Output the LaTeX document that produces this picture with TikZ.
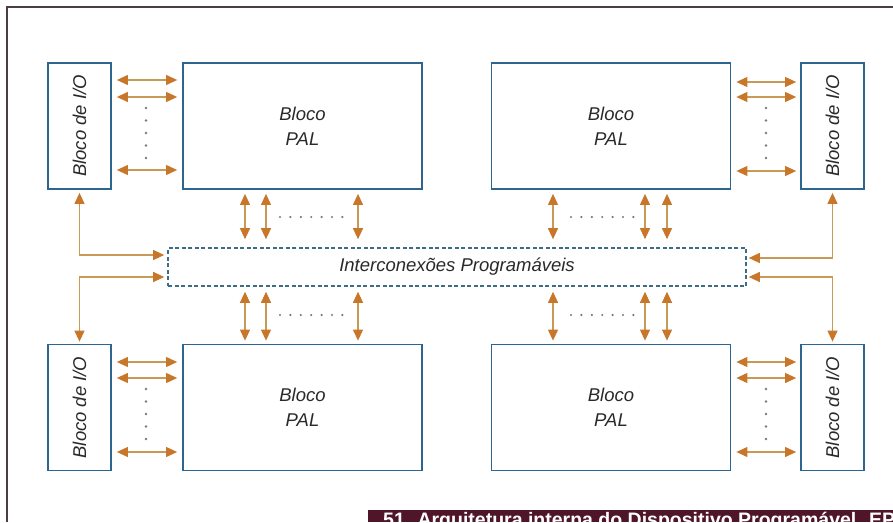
\documentclass[tikz,border=0pt]{standalone}
\usepackage{fontspec}
\setmainfont{Liberation Sans}
\usetikzlibrary{arrows.meta}
\definecolor{boxblue}{HTML}{2B6590}
\definecolor{dashblue}{HTML}{3C6C86}
\definecolor{arr}{HTML}{C8772A}
\definecolor{arrline}{HTML}{C99A55}
\definecolor{txt}{HTML}{2A2A2A}
\definecolor{frame}{HTML}{4E3C44}
\definecolor{capbar}{HTML}{4F1629}
\definecolor{dotc}{HTML}{7A7A70}
\tikzset{
  palbox/.style={draw=boxblue, line width=1.8pt, fill=white, minimum width=239pt, minimum height=126pt, inner sep=0pt, align=center, font=\fontsize{18.5}{25}\selectfont\itshape, text=txt},
  iobox/.style={draw=boxblue, line width=1.8pt, fill=white, minimum width=63pt, minimum height=126pt, inner sep=0pt},
  iolabel/.style={rotate=90, font=\fontsize{18.5}{22}\selectfont\itshape, text=txt},
  icbox/.style={draw=dashblue, line width=1.6pt, dash pattern=on 4pt off 2.5pt, minimum width=578pt, minimum height=38pt, inner sep=0pt, font=\fontsize{18.5}{22}\selectfont\itshape, text=txt},
  biarrow/.style={draw=arrline, line width=1.1pt, {Triangle[length=11pt,width=10pt,color=arr]}-{Triangle[length=11pt,width=10pt,color=arr]}},
  dotmark/.style={fill=dotc, draw=none}
}
\begin{document}
\begin{tikzpicture}[x=1pt,y=-1pt]
\useasboundingbox (0,0) rectangle (893,522);
\fill[white] (0,0) rectangle (893,522);
% frame
\draw[frame, line width=2pt] (7,522) -- (7,7) -- (893,7);
% blocks
\node[palbox] (pal1) at (302.5,126) {Bloco\\PAL};
\node[palbox] (pal2) at (611,126) {Bloco\\PAL};
\node[palbox] (pal3) at (302.5,407.5) {Bloco\\PAL};
\node[palbox] (pal4) at (611,407.5) {Bloco\\PAL};
\node[iobox] (io1) at (79.5,126) {};
\node[iobox] (io2) at (832.5,126) {};
\node[iobox] (io3) at (79.5,407.5) {};
\node[iobox] (io4) at (832.5,407.5) {};
\foreach \n in {io1,io2,io3,io4} \node[iolabel] at (\n) {Bloco de I/O};
\node[icbox] (ic) at (457,267) {Interconexões Programáveis};
% horizontal arrows top
\foreach \y in {80,97,170} {
  \draw[biarrow, shorten <=5pt, shorten >=5pt] (io1.east |- 0,\y) -- (pal1.west |- 0,\y);
}
\foreach \y in {82,97,171} {
  \draw[biarrow, shorten <=5pt, shorten >=4pt] (pal2.east |- 0,\y) -- (io2.west |- 0,\y);
}
\foreach \y in {362,378,452} {
  \draw[biarrow, shorten <=5pt, shorten >=5pt] (io3.east |- 0,\y) -- (pal3.west |- 0,\y);
  \draw[biarrow, shorten <=5pt, shorten >=4pt] (pal4.east |- 0,\y) -- (io4.west |- 0,\y);
}
% vertical arrows
\foreach \x in {245,266,358,553,645,667} {
  \draw[biarrow, shorten <=4pt, shorten >=8pt] (pal1.south -| \x,0) -- (ic.north -| \x,0);
  \draw[biarrow, shorten <=5pt, shorten >=3pt] (ic.south -| \x,0) -- (pal3.north -| \x,0);
}
% L connectors
\draw[biarrow, shorten <=3pt, shorten >=3pt] (io1.south) |- (ic.west |- 0,255);
\draw[biarrow, shorten <=3pt, shorten >=2pt] (ic.west |- 0,277) -| (io3.north);
\draw[biarrow, shorten <=3pt, shorten >=2pt] (io2.south) |- (ic.east |- 0,258);
\draw[biarrow, shorten <=2pt, shorten >=2pt] (ic.east |- 0,277) -| (io4.north);
% dots
\foreach \y in {108,120.5,133,145.5,158} {
  \fill[dotmark] (146,\y) circle (1.3pt);
  \fill[dotmark] (766,\y) circle (1.3pt);
}
\foreach \y in {389,401.5,414,426.5,439} {
  \fill[dotmark] (146,\y) circle (1.3pt);
  \fill[dotmark] (766,\y) circle (1.3pt);
}
\foreach \i in {0,...,6} {
  \fill[dotmark] (280+10.4*\i,217) circle (1.2pt);
  \fill[dotmark] (571+10.4*\i,217) circle (1.2pt);
  \fill[dotmark] (280+10.4*\i,315) circle (1.2pt);
  \fill[dotmark] (571+10.4*\i,315) circle (1.2pt);
}
% caption bar
\begin{scope}
\clip (368,510) rectangle (893,522);
\fill[capbar] (368,510) rectangle (893,522);
\node[anchor=base west, inner sep=0pt, text=white, font=\fontsize{19.5}{22}\selectfont\bfseries] (cap) at (383,526) {51. Arquitetura interna do Dispositivo Programável. EP};
\end{scope}
\end{tikzpicture}
\end{document}
